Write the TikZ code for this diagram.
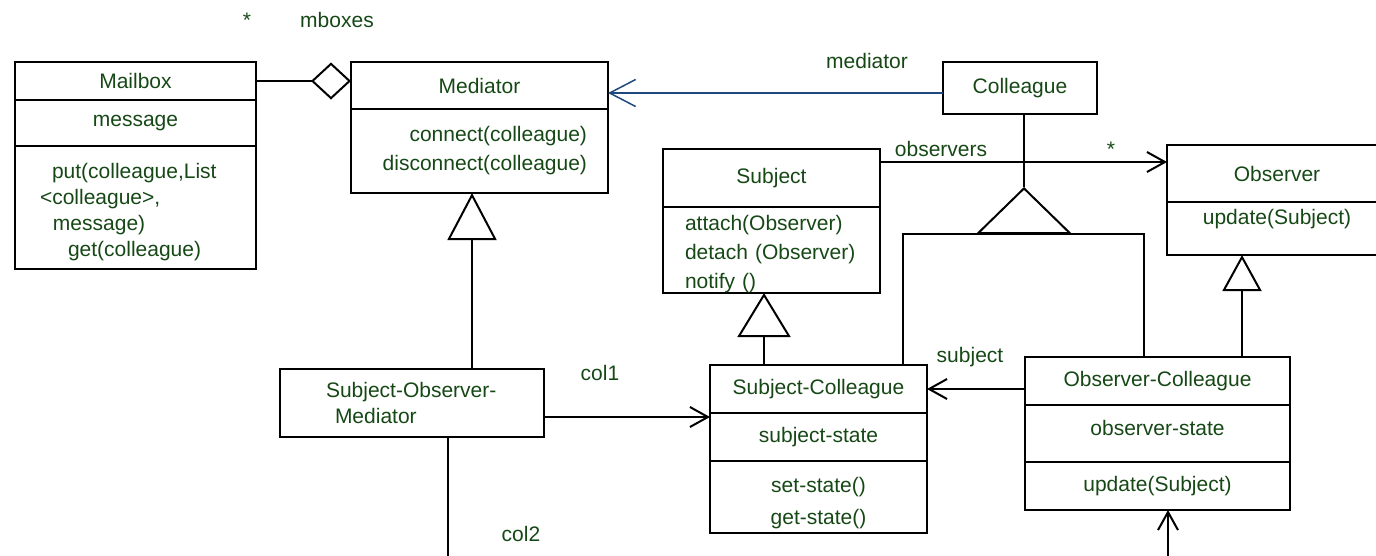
\documentclass[tikz,border=0pt]{standalone}
\usepackage{fontspec}
\setmainfont{Liberation Sans}
\usetikzlibrary{positioning, arrows.meta}
\definecolor{LeafGreen}{RGB}{22, 72, 22}
\definecolor{LinkBlue}{RGB}{31, 73, 125}

\begin{document}
\begin{tikzpicture}[
        x=1pt, y=-1pt,
        font=\fontsize{21}{26}\selectfont,
        part/.style={draw=black, line width=2pt, rectangle, inner sep=0pt, outer sep=0pt, align=center, text=LeafGreen},
        rolename/.style={inner sep=0pt, anchor=base, text=LeafGreen},
        plainline/.style={line width=2pt},
        assoc/.style={-{Straight Barb[length=18pt, width=20pt]}, line width=2pt},
        aggr/.style={{Diamond[open, length=40pt, width=37pt]}-, line width=2pt},
        inherit/.style 2 args={-{Triangle[open, length=#1, width=#2]}, line width=2pt},
        medarrow/.style={-{Straight Barb[length=26pt, width=27pt]}, line width=1.5pt, LinkBlue}
      ]
        \clip (0,0) rectangle (1376,555);

        % Nodes
        \node [part, minimum width=241pt, minimum height=38pt] (mailbox) at (135.5,81) {Mailbox};
        \node [part, minimum width=241pt, minimum height=46pt, below=0pt of mailbox] (mailboxattr) {message};
        \node [part, minimum width=241pt, minimum height=123pt, text width=241pt, align=left, below=0pt of mailboxattr] (mailboxops)
          {\rule{0pt}{25pt}\hspace*{37pt}put(colleague,List\\\hspace*{25pt}<colleague>,\\\hspace*{38pt}message)\\\hspace*{53pt}get(colleague)};

        \node [part, minimum width=257pt, minimum height=47pt] (mediator) at (479.5,85.5) {Mediator};
        \node [part, minimum width=257pt, minimum height=84pt, text width=257pt, align=right, below=0pt of mediator] (mediatorops)
          {connect(colleague)\hspace*{21pt}\mbox{}\\[3pt]disconnect(colleague)\hspace*{21pt}\mbox{}};

        \node [part, minimum width=154pt, minimum height=52pt] (colleague) at (1020,88) {Colleague};

        \node [part, minimum width=217pt, minimum height=58pt] (subject) at (771.5,178) {Subject};
        \node [part, minimum width=217pt, minimum height=86pt, text width=217pt, align=left, below=0pt of subject] (subjectops)
          {\rule{0pt}{23pt}\hspace*{22pt}attach(Observer)\\[3pt]\hspace*{22pt}detach (Observer)\\[3pt]\hspace*{22pt}notify ()};

        \node [part, minimum width=220pt, minimum height=57pt] (observer) at (1277,173.5) {Observer};
        \node [part, minimum width=220pt, minimum height=53pt, text depth=24pt, below=0pt of observer] (observerops) {update(Subject)};

        \node [part, minimum width=264pt, minimum height=68pt, text width=264pt, align=left] (som) at (412,403)
          {\hspace*{46pt}Subject-Observer-\\\hspace*{55pt}Mediator};

        \node [part, minimum width=217pt, minimum height=48pt] (subjcol) at (818.5,389) {Subject-Colleague};
        \node [part, minimum width=217pt, minimum height=48pt, below=0pt of subjcol] (subjcolattr) {subject-state};
        \node [part, minimum width=217pt, minimum height=72pt, below=0pt of subjcolattr] (subjcolops) {\rule{0pt}{27pt}set-state()\\[6pt]get-state()};

        \node [part, minimum width=265pt, minimum height=48pt] (obscol) at (1157.5,381) {Observer-Colleague};
        \node [part, minimum width=265pt, minimum height=57pt, text depth=12pt, below=0pt of obscol] (obscolattr) {observer-state};
        \node [part, minimum width=265pt, minimum height=48pt, below=0pt of obscolattr] (obscolops) {update(Subject)};

        % Role names
        \node [rolename] (mboxstar) at (247,27) {*};
        \node [rolename] (mboxes) at (337,27) {mboxes};
        \node [rolename] (medrole) at (867,68) {mediator};
        \node [rolename] (obsrole) at (941,156) {observers};
        \node [rolename] (obsstar) at (1111,156) {*};
        \node [rolename] (col1) at (600,380) {col1};
        \node [rolename] (col2) at (521,541) {col2};
        \node [rolename] (subjrole) at (970,362) {subject};

        % Helper points
        \coordinate (medfoot) at (472,193);
        \coordinate (subjfoot) at (764,293);
        \coordinate (obsfoot) at (1242,255);
        \coordinate (apex) at (1024,187);
        \coordinate (fork) at (1024,234);
        \coordinate (forkl) at (903,234);
        \coordinate (forkr) at (1144,234);
        \coordinate (col2end) at (448,560);
        \coordinate (obsend) at (1168,560);
        \coordinate (medstart) at ([yshift=-5pt]colleague.west);
        \coordinate (obsstart) at ([yshift=-13pt]subject.north east);
        \coordinate (col1start) at ([yshift=-14pt]som.east);

        % Connections
        \draw [aggr] (mailbox.east -| mediator.west) -- (mailbox.east);
        \draw [medarrow] (medstart) -- (medstart -| mediator.east);
        \draw [assoc] (obsstart) -- (obsstart -| observer.west);
        \draw [assoc] (col1start) -- (col1start -| subjcol.west);
        \draw [assoc] (subjcol.east -| obscol.west) -- (subjcol.east);
        \draw [plainline] (som.south -| col2end) -- (col2end);
        \draw [assoc] (obsend) -- (obsend |- obscolops.south);

        % Inheritance
        \draw [inherit={47pt}{49pt}] (medfoot |- som.north) -- (medfoot |- mediatorops.south);
        \draw [inherit={44pt}{53pt}] (subjfoot |- subjcol.north) -- (subjfoot |- subjectops.south);
        \draw [inherit={36pt}{39pt}] (obsfoot |- obscol.north) -- (obsfoot |- observerops.south);
        \draw [plainline] (colleague.south -| apex) -- (apex);
        \draw [inherit={47pt}{96pt}] (fork) -- (apex);
        \draw [plainline] (forkl |- subjcol.north) -- (forkl) -- (forkr) -- (forkr |- obscol.north);
      \end{tikzpicture}
\end{document}
